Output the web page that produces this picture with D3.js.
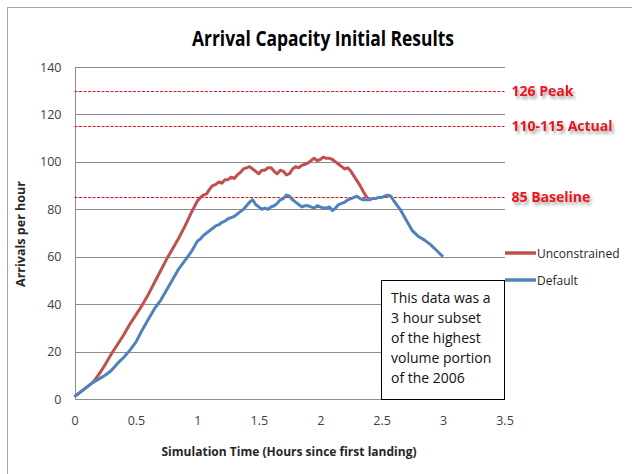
<!DOCTYPE html>
<html>
<head>
<meta charset="utf-8">
<script src="https://cdn.jsdelivr.net/npm/d3@7"></script>
<style>
  body { margin: 0; background: #fff; }
  text { font-family: "Open Sans", "Liberation Sans", sans-serif; }
</style>
</head>
<body>
<div id="chart"></div>
<script>
// data
var unconstrainedTime = [0, 0.05, 0.1, 0.15, 0.2, 0.25, 0.3, 0.35, 0.4, 0.45, 0.5, 0.55, 0.6, 0.65, 0.7, 0.75, 0.8, 0.85, 0.9, 0.95,
  1.0, 1.025, 1.05, 1.075, 1.1, 1.125, 1.15, 1.175, 1.2, 1.225, 1.25, 1.275, 1.3, 1.325, 1.35, 1.375, 1.4, 1.425, 1.45, 1.475,
  1.5, 1.525, 1.55, 1.575, 1.6, 1.625, 1.65, 1.675, 1.7, 1.725, 1.75, 1.775, 1.8, 1.825, 1.85, 1.875, 1.9, 1.925, 1.95, 1.975,
  2.0, 2.025, 2.05, 2.075, 2.1, 2.125, 2.15, 2.175, 2.2, 2.225, 2.25, 2.275, 2.3, 2.325, 2.35, 2.38];
var unconstrainedValue = [1, 3, 5, 7, 10.5, 14.5, 19, 23, 27, 31.5, 35.5, 39.5, 44, 49, 54, 59, 63.5, 68, 73, 78.5,
  83.5, 85, 86, 86.5, 88.5, 90, 90.5, 91.5, 91, 92.5, 92.5, 93.5, 93, 94.5, 95.5, 97, 97.5, 98, 97, 96,
  95, 96.5, 96.5, 97.5, 97.5, 96, 95, 96.5, 96, 94.5, 95, 97, 98, 97.5, 98.5, 99, 99.5, 100.5, 101.5, 100.5,
  101, 102, 101.5, 101.5, 101, 100, 99, 98, 97, 97.5, 96, 94, 92, 90, 87.5, 85];

var defaultTime = [0, 0.05, 0.1, 0.15, 0.2, 0.25, 0.3, 0.35, 0.4, 0.45, 0.5, 0.55, 0.6, 0.65, 0.7, 0.75, 0.8, 0.85, 0.9, 0.95,
  1.0, 1.025, 1.05, 1.075, 1.1, 1.125, 1.15, 1.175, 1.2, 1.225, 1.25, 1.275, 1.3, 1.325, 1.35, 1.375, 1.4, 1.425, 1.45, 1.475,
  1.5, 1.525, 1.55, 1.575, 1.6, 1.625, 1.65, 1.675, 1.7, 1.725, 1.75, 1.775, 1.8, 1.825, 1.85, 1.875, 1.9, 1.925, 1.95, 1.975,
  2.0, 2.025, 2.05, 2.075, 2.1, 2.125, 2.15, 2.175, 2.2, 2.225, 2.25, 2.275, 2.3, 2.325, 2.35, 2.375, 2.4, 2.425, 2.45, 2.475,
  2.5, 2.525, 2.55, 2.575, 2.6, 2.65, 2.7, 2.75, 2.8, 2.85, 2.9, 2.95, 3.0];
var defaultValue = [1, 3, 5, 7, 8.5, 10, 12, 15, 17.5, 20.5, 24, 29, 33.5, 38, 41.5, 46, 50.5, 55, 58.5, 62,
  66.5, 67.5, 69, 70, 71, 72, 73, 73.5, 74.5, 75, 76, 76.5, 77, 78, 79, 80, 81.5, 83, 84, 82,
  81, 80, 80.5, 80, 81, 81.5, 82.5, 84, 84.5, 86, 85.5, 84, 83, 82, 81, 81.5, 81.5, 81, 80.5, 81.5,
  81, 80.5, 80.5, 81, 79.5, 80.5, 82, 82.5, 83, 84, 84.5, 85, 85.5, 84.5, 84, 84, 84, 84.5, 84.5, 85,
  85, 85.5, 86, 85.5, 83.5, 80, 75.5, 71, 68.5, 67, 65, 62.5, 60];

var seriesNames = ["Unconstrained", "Default"];
var seriesColors = ["#c0504d", "#4f81bd"];

var refValues = [130, 115, 85];
var refLabels = ["126 Peak", "110-115 Actual", "85 Baseline"];

var xTicks = [0, 0.5, 1, 1.5, 2, 2.5, 3, 3.5];
var yTicks = [0, 20, 40, 60, 80, 100, 120, 140];

var noteLines = ["This data was a", "3 hour subset", "of the highest", "volume portion", "of the 2006"];

var width = 632, height = 474;
var plot = { left: 74.5, right: 504.5, top: 67, bottom: 399 };

var svg = d3.select("#chart").append("svg")
  .attr("width", width)
  .attr("height", height);

var defs = svg.append("defs");
defs.append("filter").attr("id", "blur").attr("x", "-5%").attr("y", "-200%").attr("width", "110%").attr("height", "500%")
  .append("feGaussianBlur").attr("stdDeviation", 2.2);
var ts = defs.append("filter").attr("id", "txtshadow").attr("x", "-10%").attr("y", "-30%").attr("width", "130%").attr("height", "190%");
ts.append("feDropShadow").attr("dx", 2).attr("dy", 3).attr("stdDeviation", 1.6)
  .attr("flood-color", "#000").attr("flood-opacity", 0.35);

svg.append("rect").attr("width", width).attr("height", height).attr("fill", "#fff");
// outer chart border
svg.append("rect")
  .attr("x", 7.5).attr("y", 7.5)
  .attr("width", width + 20).attr("height", height + 20)
  .attr("fill", "none").attr("stroke", "#a6a6a6");

var x = d3.scaleLinear().domain([0, 3.5]).range([plot.left, plot.right]);
var y = d3.scaleLinear().domain([0, 140]).range([plot.bottom, plot.top]);

// gridlines
svg.append("g")
  .attr("transform", "translate(" + plot.left + ",0)")
  .call(d3.axisLeft(y).tickValues(yTicks.slice(1)).tickSize(-(plot.right - plot.left)).tickFormat(""))
  .call(function(g) {
    g.select(".domain").remove();
    g.selectAll("line").attr("stroke", "#8c8c8c").attr("shape-rendering", "crispEdges");
  });

// y axis
svg.append("g")
  .attr("transform", "translate(" + plot.left + ",0)")
  .call(d3.axisLeft(y).tickValues(yTicks).tickSize(0).tickPadding(13))
  .call(function(g) {
    g.select(".domain").attr("stroke", "#8c8c8c").attr("shape-rendering", "crispEdges");
    g.selectAll("text").attr("font-size", 12.5).attr("fill", "#404040")
      .attr("font-family", "'Open Sans', sans-serif");
  });

// x axis
svg.append("g")
  .attr("transform", "translate(0," + plot.bottom + ")")
  .call(d3.axisBottom(x).tickValues(xTicks).tickSize(0).tickPadding(17).tickFormat(d3.format("")))
  .call(function(g) {
    g.select(".domain").attr("stroke", "#8c8c8c").attr("shape-rendering", "crispEdges");
    g.selectAll("text").attr("font-size", 12.5).attr("fill", "#404040")
      .attr("font-family", "'Open Sans', sans-serif");
  });

// reference lines with soft shadow
var refG = svg.append("g");
refValues.forEach(function(v, i) {
  refG.append("line")
    .attr("x1", plot.left + 2).attr("x2", plot.right)
    .attr("y1", y(v) + 4.5).attr("y2", y(v) + 4.5)
    .attr("stroke", "#9a9a9a").attr("stroke-width", 5).attr("opacity", 0.45)
    .attr("filter", "url(#blur)");
  refG.append("line")
    .attr("x1", plot.left).attr("x2", plot.right)
    .attr("y1", Math.round(y(v)) + 0.5).attr("y2", Math.round(y(v)) + 0.5)
    .attr("stroke", "#e8141c").attr("stroke-width", 1)
    .attr("stroke-dasharray", "3,1.5");
  refG.append("text")
    .attr("x", plot.right + 7).attr("y", y(v) + 5)
    .attr("font-size", 14).attr("font-weight", "bold")
    .attr("fill", "#e8141c")
    .attr("filter", "url(#txtshadow)")
    .text(refLabels[i]);
});

// series lines
var series = [
  d3.zip(unconstrainedTime, unconstrainedValue),
  d3.zip(defaultTime, defaultValue)
];
var line = d3.line()
  .x(function(d) { return x(d[0]); })
  .y(function(d) { return y(d[1]); });

series.forEach(function(s, i) {
  svg.append("path")
    .datum(s)
    .attr("fill", "none")
    .attr("stroke", seriesColors[i])
    .attr("stroke-width", 3)
    .attr("stroke-linejoin", "round")
    .attr("d", line);
});

// legend
var legend = svg.append("g");
seriesNames.forEach(function(name, i) {
  var ly = 253 + i * 27;
  legend.append("line")
    .attr("x1", 505).attr("x2", 536).attr("y1", ly).attr("y2", ly)
    .attr("stroke", seriesColors[i]).attr("stroke-width", 3.5);
  legend.append("text")
    .attr("x", 537).attr("y", ly + 4.5)
    .attr("font-size", 12).attr("fill", "#262626")
    .text(name);
});

// note box
svg.append("rect")
  .attr("x", 381.5).attr("y", 280.5).attr("width", 123).attr("height", 119)
  .attr("fill", "#fff").attr("stroke", "#000").attr("stroke-width", 1);
svg.append("text")
  .attr("x", 391).attr("y", 303)
  .attr("font-size", 14).attr("fill", "#111")
  .selectAll("tspan").data(noteLines).enter()
  .append("tspan")
  .attr("x", 391).attr("dy", function(d, i) { return i === 0 ? 0 : 20; })
  .text(function(d) { return d; });

// title and axis titles
svg.append("text")
  .attr("x", 323).attr("y", 46)
  .attr("text-anchor", "middle")
  .attr("font-size", 21).attr("font-weight", "bold").attr("fill", "#000")
  .attr("textLength", 262).attr("lengthAdjust", "spacingAndGlyphs")
  .text("Arrival Capacity Initial Results");

svg.append("text")
  .attr("x", 289).attr("y", 456)
  .attr("text-anchor", "middle")
  .attr("font-size", 11.5).attr("font-weight", "bold").attr("fill", "#262626")
  .attr("textLength", 255).attr("lengthAdjust", "spacingAndGlyphs")
  .text("Simulation Time (Hours since first landing)");

svg.append("text")
  .attr("transform", "translate(25,234) rotate(-90)")
  .attr("text-anchor", "middle")
  .attr("font-size", 11.5).attr("font-weight", "bold").attr("fill", "#262626")
  .attr("textLength", 106).attr("lengthAdjust", "spacingAndGlyphs")
  .text("Arrivals per hour");
</script>
</body>
</html>
